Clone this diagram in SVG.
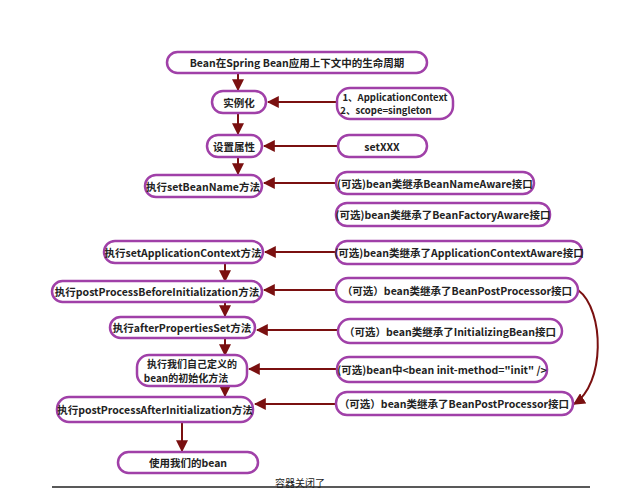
<svg xmlns="http://www.w3.org/2000/svg" width="640" height="489" viewBox="0 0 640 489">
<style>
.n{fill:#fff;stroke:#a040a8;stroke-width:2.5}
.t{font-family:"Noto Sans CJK SC","Liberation Sans",sans-serif;font-size:10.5px;font-weight:bold;fill:#222;text-anchor:middle;dominant-baseline:central}
.c{stroke:#7a1010;stroke-width:2;fill:none}
</style>
<defs><marker id="a" viewBox="0 0 10 10" refX="9" refY="5" markerWidth="6" markerHeight="6" orient="auto"><path d="M0,0L10,5L0,10z" fill="#7a1010"/></marker></defs>
<rect width="640" height="489" fill="#fff"/>
<g id="connectors">
<path class="c" marker-end="url(#a)" d="M238,73V90"/>
<path class="c" marker-end="url(#a)" d="M238,113V134"/>
<path class="c" marker-end="url(#a)" d="M238,157V174"/>
<path class="c" marker-end="url(#a)" d="M337,102H268"/>
<path class="c" marker-end="url(#a)" d="M338,146H264"/>
<path class="c" marker-end="url(#a)" d="M335,183H264"/>
<path class="c" marker-end="url(#a)" d="M335,252H265"/>
<path class="c" marker-end="url(#a)" d="M336,290H264"/>
<path class="c" marker-end="url(#a)" d="M338,330H257"/>
<path class="c" marker-end="url(#a)" d="M337,369H249"/>
<path class="c" marker-end="url(#a)" d="M336,404H255"/>
<path class="c" marker-end="url(#a)" d="M225,263V281"/>
<path class="c" marker-end="url(#a)" d="M225,302V316"/>
<path class="c" marker-end="url(#a)" d="M225,338V355"/>
<path class="c" marker-end="url(#a)" d="M225,385V396"/>
<path class="c" marker-end="url(#a)" d="M182,422V451"/>
<path class="c" marker-end="url(#a)" d="M578,290C605,310,605,385,574,404"/>
<path d="M52,487H590" stroke="#222" stroke-width="1.5"/>
</g>
<g id="n1"><rect class="n" x="167" y="52" width="260" height="21" rx="10.5"/><text class="t" x="297" y="62.5">Bean在Spring Bean应用上下文中的生命周期</text></g>
<g id="n2"><rect class="n" x="212" y="91" width="54" height="22" rx="11"/><text class="t" x="239" y="102">实例化</text></g>
<g id="n3"><rect class="n" x="337" y="88" width="116" height="31" rx="13"/><text class="t" x="395" y="97" style="font-size:9.5px">1、ApplicationContext</text><text class="t" x="386" y="110" style="font-size:9.5px">2、scope=singleton</text></g>
<g id="n4"><rect class="n" x="207" y="135" width="55" height="22" rx="11"/><text class="t" x="234" y="146">设置属性</text></g>
<g id="n5"><rect class="n" x="338" y="135" width="89" height="22" rx="11"/><text class="t" x="382" y="146">setXXX</text></g>
<g id="n6"><rect class="n" x="145" y="175" width="117" height="22" rx="11"/><text class="t" x="203" y="186">执行setBeanName方法</text></g>
<g id="n7"><rect class="n" x="336" y="172" width="198" height="22" rx="11"/><text class="t" x="435" y="183">(可选)bean类继承BeanNameAware接口</text></g>
<g id="n8"><rect class="n" x="336" y="203" width="214" height="23" rx="11"/><text class="t" x="443" y="214.5">(可选)bean类继承了BeanFactoryAware接口</text></g>
<g id="n9"><rect class="n" x="104" y="241" width="159" height="22" rx="11"/><text class="t" x="183" y="252">执行setApplicationContext方法</text></g>
<g id="n10"><rect class="n" x="336" y="241" width="246" height="23" rx="11"/><text class="t" x="459" y="252.5">(可选)bean类继承了ApplicationContextAware接口</text></g>
<g id="n11"><rect class="n" x="52" y="281" width="210" height="21" rx="10.5"/><text class="t" x="157" y="291.5">执行postProcessBeforeInitialization方法</text></g>
<g id="n12"><rect class="n" x="336" y="278" width="242" height="24" rx="12"/><text class="t" x="457" y="290">（可选）bean类继承了BeanPostProcessor接口</text></g>
<g id="n13"><rect class="n" x="110" y="317" width="145" height="21" rx="10.5"/><text class="t" x="182" y="327.5">执行afterPropertiesSet方法</text></g>
<g id="n14"><rect class="n" x="338" y="319" width="224" height="24" rx="12"/><text class="t" x="450" y="331">（可选）bean类继承了InitializingBean接口</text></g>
<g id="n15"><rect class="n" x="137" y="355" width="110" height="31" rx="12"/><text class="t" x="192" y="363.5" style="font-size:10px">执行我们自己定义的</text><text class="t" x="186" y="377.5" style="font-size:10px">bean的初始化方法</text></g>
<g id="n16"><rect class="n" x="337" y="357" width="210" height="25" rx="12"/><text class="t" x="442" y="369.5">(可选)bean中&lt;bean init-method="init" /&gt;</text></g>
<g id="n17"><rect class="n" x="57" y="397" width="196" height="25" rx="12"/><text class="t" x="155" y="409.5">执行postProcessAfterInitialization方法</text></g>
<g id="n18"><rect class="n" x="336" y="392" width="237" height="23" rx="11"/><text class="t" x="454" y="403.5">（可选）bean类继承了BeanPostProcessor接口</text></g>
<g id="n19"><rect class="n" x="118" y="452" width="140" height="21" rx="10.5"/><text class="t" x="188" y="462.5">使用我们的bean</text></g>
<text class="t" x="300" y="482" style="font-weight:normal;font-size:10px">容器关闭了</text>
</svg>
